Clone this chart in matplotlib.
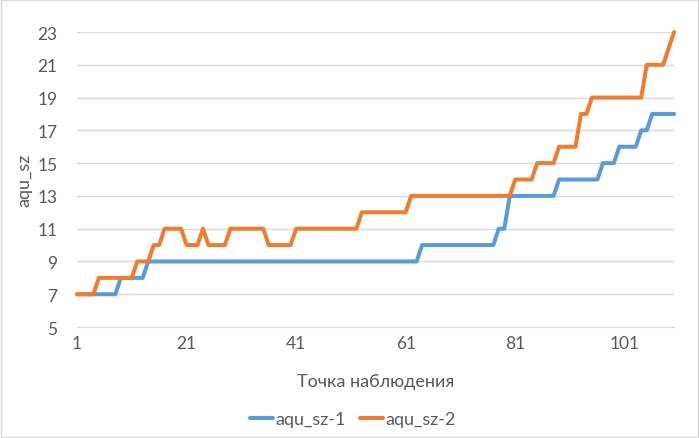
import numpy as np
import matplotlib
matplotlib.use("Agg")
import matplotlib.pyplot as plt
from matplotlib.patches import Rectangle

plt.rcParams['font.family'] = ['Lato', 'Open Sans', 'DejaVu Sans']

# observation points 1..110
points = np.arange(1, 111)

aqu_sz_1 = [7, 7, 7, 7, 7, 7, 7, 7, 8, 8,
            8, 8, 8, 9, 9, 9, 9, 9, 9, 9,
            9, 9, 9, 9, 9, 9, 9, 9, 9, 9,
            9, 9, 9, 9, 9, 9, 9, 9, 9, 9,
            9, 9, 9, 9, 9, 9, 9, 9, 9, 9,
            9, 9, 9, 9, 9, 9, 9, 9, 9, 9,
            9, 9, 9, 10, 10, 10, 10, 10, 10, 10,
            10, 10, 10, 10, 10, 10, 10, 11, 11, 13,
            13, 13, 13, 13, 13, 13, 13, 13, 14, 14,
            14, 14, 14, 14, 14, 14, 15, 15, 15, 16,
            16, 16, 16, 17, 17, 18, 18, 18, 18, 18]

aqu_sz_2 = [7, 7, 7, 7, 8, 8, 8, 8, 8, 8,
            8, 9, 9, 9, 10, 10, 11, 11, 11, 11,
            10, 10, 10, 11, 10, 10, 10, 10, 11, 11,
            11, 11, 11, 11, 11, 10, 10, 10, 10, 10,
            11, 11, 11, 11, 11, 11, 11, 11, 11, 11,
            11, 11, 12, 12, 12, 12, 12, 12, 12, 12,
            12, 13, 13, 13, 13, 13, 13, 13, 13, 13,
            13, 13, 13, 13, 13, 13, 13, 13, 13, 13,
            14, 14, 14, 14, 15, 15, 15, 15, 16, 16,
            16, 16, 18, 18, 19, 19, 19, 19, 19, 19,
            19, 19, 19, 19, 21, 21, 21, 21, 22, 23]

series_names = ["aqu_sz-1", "aqu_sz-2"]
clrs = ["#5B9BD5", "#ED7D31"]
txt_clr = "#595959"
grid_clr = "#D9D9D9"

fig = plt.figure(figsize=(7, 4.39), dpi=100)
ax = fig.add_axes([0.11, 0.2528, 0.853, 0.672])

for vals, name, c in zip([aqu_sz_1, aqu_sz_2], series_names, clrs):
    ax.plot(points, vals, color=c, lw=2.9, label=name,
            solid_joinstyle='round', solid_capstyle='round', clip_on=False)

ax.set_xlim(1, 110)
ax.set_ylim(5, 23)
ax.set_yticks(np.arange(5, 24, 2))
ax.set_xticks([1, 21, 41, 61, 81, 101])

ax.grid(axis='y', color=grid_clr, lw=1)
ax.set_axisbelow(True)
for s in ['top', 'right', 'left']:
    ax.spines[s].set_visible(False)
ax.spines['bottom'].set_color(grid_clr)
ax.tick_params(axis='both', length=0, labelsize=12.5, colors=txt_clr)
ax.tick_params(axis='y', pad=14)
ax.tick_params(axis='x', pad=6)

ax.set_xlabel("Точка наблюдения", fontsize=13, color=txt_clr)
ax.set_ylabel("aqu_sz", fontsize=13, color=txt_clr)
ax.xaxis.set_label_coords(0.5, -0.155)
ax.yaxis.set_label_coords(-0.075, 0.5)

fig.legend(loc='center', bbox_to_anchor=(0.504, 0.043), ncol=2, frameon=False,
           fontsize=13, handlelength=1.3, handletextpad=0.1, columnspacing=0.8,
           labelcolor=txt_clr)

fig.patches.append(Rectangle((0.001, 0.002), 0.996, 0.995, transform=fig.transFigure,
                             fill=False, ec=grid_clr, lw=1))

fig.savefig("out.png", dpi=100)
